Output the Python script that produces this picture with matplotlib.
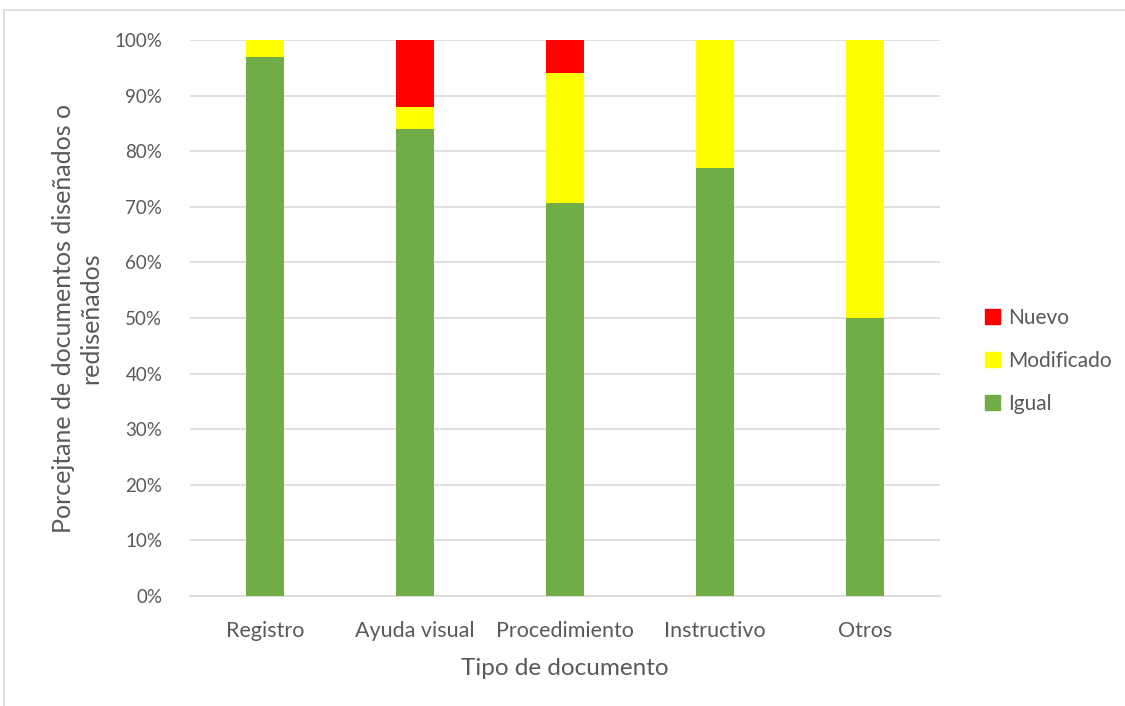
import matplotlib
matplotlib.use("Agg")
import matplotlib.pyplot as plt
from matplotlib.lines import Line2D
from matplotlib.patches import Patch
import numpy as np

categories = ["Registro", "Ayuda visual", "Procedimiento", "Instructivo", "Otros"]
igual = [97.0, 84.0, 70.6, 76.9, 50.0]
modificado = [3.0, 4.0, 23.5, 23.1, 50.0]
nuevo = [0.0, 12.0, 5.9, 0.0, 0.0]
yticks = [0, 10, 20, 30, 40, 50, 60, 70, 80, 90, 100]

plt.rcParams['font.family'] = ['Lato', 'DejaVu Sans']
txt = '#595959'
grid = '#D9D9D9'

fig = plt.figure(figsize=(11.25, 7.06), dpi=100)
ax = fig.add_axes([190/1125, 1-596/706, 750/1125, 556/706])

x = np.arange(len(categories))
w = 0.25
ax.bar(x, igual, w, color='#70AD47', label='Igual', zorder=3)
ax.bar(x, modificado, w, bottom=igual, color='#FFFF00', label='Modificado', zorder=3)
bot = [a + b for a, b in zip(igual, modificado)]
ax.bar(x, nuevo, w, bottom=bot, color='#FF0000', label='Nuevo', zorder=3)

ax.set_xlim(-0.5, len(categories) - 0.5)
ax.set_ylim(0, 100)
ax.set_yticks(yticks)
ax.set_yticklabels([f"{v}%" for v in yticks])
ax.set_xticks(x)
ax.set_xticklabels(categories)
ax.grid(axis='y', color=grid, linewidth=1.2, zorder=0)
for s in ['top', 'right', 'left']:
    ax.spines[s].set_visible(False)
ax.spines['bottom'].set_color(grid)
ax.spines['bottom'].set_linewidth(1.2)
ax.tick_params(axis='both', length=0, colors=txt)
ax.tick_params(axis='y', pad=20, labelsize=13.5)
ax.tick_params(axis='x', pad=18, labelsize=15.5)

ax.set_xlabel("Tipo de documento", fontsize=17.5, color=txt, labelpad=12)
ax.set_ylabel("Porcejtane de documentos diseñados o\nrediseñados", fontsize=18,
              color=txt, labelpad=9, linespacing=1.2)

handles = [Patch(color='#FF0000', label='Nuevo'),
           Patch(color='#FFFF00', label='Modificado'),
           Patch(color='#70AD47', label='Igual')]
fig.legend(handles=handles, loc='center left', bbox_to_anchor=(966/1125, 1-361/706),
           frameon=False, fontsize=15, labelcolor=txt, handlelength=0.75,
           handleheight=0.75, handletextpad=0.35, labelspacing=1.1)

# chart frame (partial)
fig.add_artist(Line2D([4/1125, 4/1125], [0, 1-10/706], transform=fig.transFigure,
                      color=grid, linewidth=1.2))
fig.add_artist(Line2D([4/1125, 1], [1-10/706, 1-10/706], transform=fig.transFigure,
                      color=grid, linewidth=1.2))

fig.savefig("out.png", dpi=100)
